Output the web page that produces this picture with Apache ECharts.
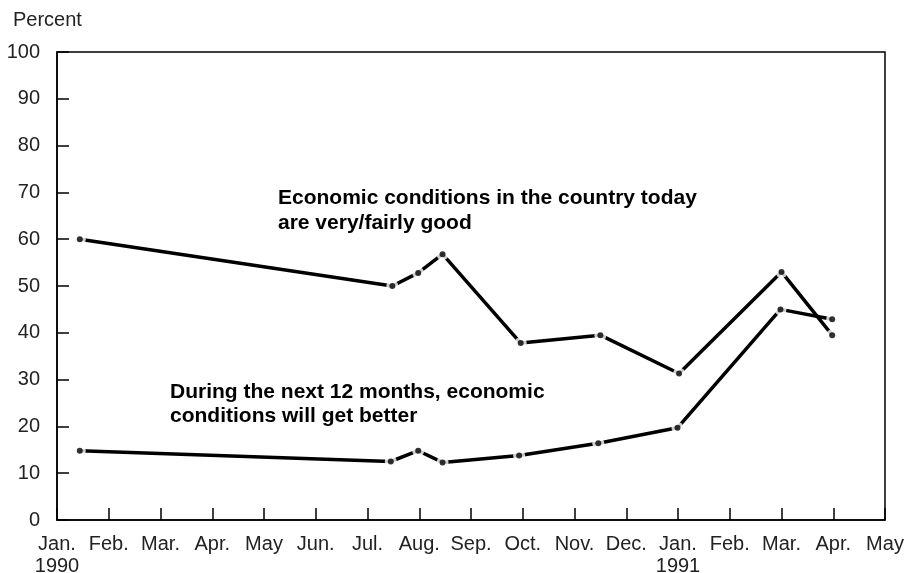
<!DOCTYPE html>
<html>
<head>
<meta charset="utf-8">
<script src="https://cdn.jsdelivr.net/npm/echarts@6/dist/echarts.min.js"></script>
<style>
html,body{margin:0;padding:0;background:#fff;}
#c{width:905px;height:573px;}
</style>
</head>
<body>
<div id="c"></div>
<script>
// Month tick labels (x = months since Jan 1990)
var monthLabels = ['Jan.\n1990','Feb.','Mar.','Apr.','May','Jun.','Jul.','Aug.','Sep.','Oct.','Nov.','Dec.','Jan.\n1991','Feb.','Mar.','Apr.','May'];
// Series: [month position, percent]
var goodX = [0.44, 6.48, 6.98, 7.45, 8.96, 10.5, 12.02, 14.0, 14.98];
var goodY = [60, 50, 52.8, 56.8, 37.8, 39.5, 31.3, 53, 39.5];
var betterX = [0.44, 6.45, 6.98, 7.45, 8.93, 10.46, 11.99, 13.98, 14.98];
var betterY = [14.8, 12.5, 14.8, 12.3, 13.8, 16.4, 19.7, 45.0, 42.9];
var goodLabel = 'Economic conditions in the country today\nare very/fairly good';
var betterLabel = 'During the next 12 months, economic\nconditions will get better';

function pairs(xs, ys){ return xs.map(function(x,i){ return [x, ys[i]]; }); }
var good = pairs(goodX, goodY);
var better = pairs(betterX, betterY);

var font = '"Liberation Sans", Arial, Helvetica, sans-serif';
var chart = echarts.init(document.getElementById('c'), null, {renderer:'canvas'});

function lineSeries(d){
  return {type:'line', data:d, showSymbol:false, symbol:'none', silent:true,
    lineStyle:{color:'#000', width:3.5}, z:2, animation:false};
}
function haloSeries(d){
  return {type:'scatter', data:d, symbol:'circle', symbolSize:12, silent:true,
    itemStyle:{color:'#fff'}, z:3, animation:false};
}
function dotSeries(d){
  return {type:'scatter', data:d, symbol:'circle', symbolSize:6, silent:true,
    itemStyle:{color:'#000'}, z:4, animation:false};
}

chart.setOption({
  animation:false,
  backgroundColor:'#fff',
  grid:{left:57, right:20, top:52, bottom:53, containLabel:false, outerBoundsMode:'none',
    show:true, borderColor:'#000', borderWidth:1.5, backgroundColor:'transparent'},
  title:{text:'Percent', left:8, top:5, textStyle:{fontFamily:font, fontSize:20, fontWeight:'normal', color:'#222'}},
  xAxis:{type:'value', min:0, max:16, interval:1,
    axisLine:{show:true, lineStyle:{color:'#000', width:1.5}},
    axisTick:{show:true, inside:true, length:12, lineStyle:{color:'#000', width:1.5}},
    splitLine:{show:false},
    axisLabel:{margin:13, fontFamily:font, fontSize:20, color:'#222', lineHeight:22,
      formatter:function(v){ return monthLabels[Math.round(v)] || ''; }}
  },
  yAxis:{type:'value', min:0, max:100, interval:10,
    axisLine:{show:true, lineStyle:{color:'#000', width:1.5}},
    axisTick:{show:true, inside:true, length:12, lineStyle:{color:'#000', width:1.5}},
    splitLine:{show:false},
    axisLabel:{margin:17, fontFamily:font, fontSize:20, color:'#222'}
  },
  graphic:[
    {type:'text', left:278, top:186, style:{text:goodLabel, font:'bold 21px ' + font, fill:'#000', lineHeight:25}},
    {type:'text', left:170, top:380, style:{text:betterLabel, font:'bold 21px ' + font, fill:'#000', lineHeight:24}}
  ],
  series:[lineSeries(good), lineSeries(better), haloSeries(good), haloSeries(better), dotSeries(good), dotSeries(better)]
});
</script>
</body>
</html>
